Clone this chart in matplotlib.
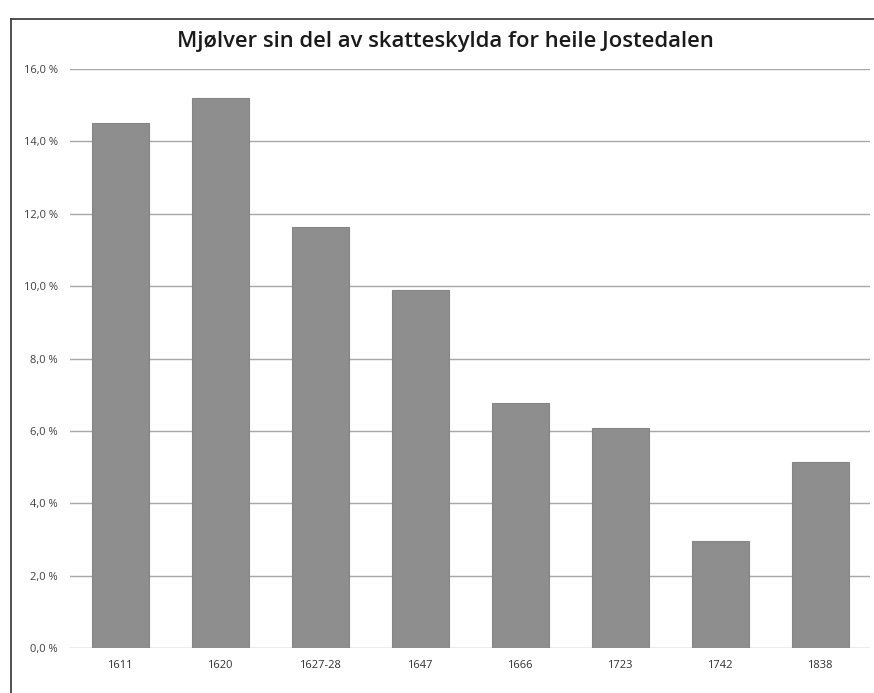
import matplotlib
matplotlib.use("Agg")
import matplotlib.pyplot as plt
from matplotlib.lines import Line2D

# share of skatteskylda, in percent
years = ['1611', '1620', '1627-28', '1647', '1666', '1723', '1742', '1838']
share = [14.5, 15.2, 11.63, 9.89, 6.78, 6.09, 2.97, 5.13]
yticks = [0, 2, 4, 6, 8, 10, 12, 14, 16]
ytick_labels = ['0,0 %', '2,0 %', '4,0 %', '6,0 %', '8,0 %',
                '10,0 %', '12,0 %', '14,0 %', '16,0 %']

plt.rcParams['font.family'] = ['Open Sans', 'DejaVu Sans']

fig = plt.figure(figsize=(8.74, 6.93), dpi=100)
ax = fig.add_axes([70/874, 45/693, 800/874, 579/693])

ax.bar(range(len(years)), share, width=0.57, color='#8e8e8e',
       edgecolor='#858585', linewidth=0.8, zorder=3)

ax.set_xlim(-0.5, len(years) - 0.5)
ax.set_ylim(0, 16)
ax.set_yticks(yticks)
ax.set_yticklabels(ytick_labels, fontsize=8, color='#404040')
ax.set_xticks(range(len(years)))
ax.set_xticklabels(years, fontsize=8, color='#303030')
ax.tick_params(axis='both', length=0, pad=9)
ax.grid(axis='y', color='#a8a8a8', linewidth=1.0, zorder=0)
for s in ax.spines.values():
    s.set_visible(False)

fig.text(445/874, 1 - 41/693, 'Mjølver sin del av skatteskylda for heile Jostedalen',
         ha='center', va='center', fontsize=15.8, fontweight='semibold', color='#1a1a1a')

# outer chart border (left and top visible)
fig.add_artist(Line2D([11/874, 11/874], [0, 1 - 19/693], transform=fig.transFigure,
                      color='#333333', linewidth=1.2))
fig.add_artist(Line2D([11/874, 1], [1 - 19/693, 1 - 19/693], transform=fig.transFigure,
                      color='#333333', linewidth=1.2))

fig.savefig('out.png', dpi=100)
